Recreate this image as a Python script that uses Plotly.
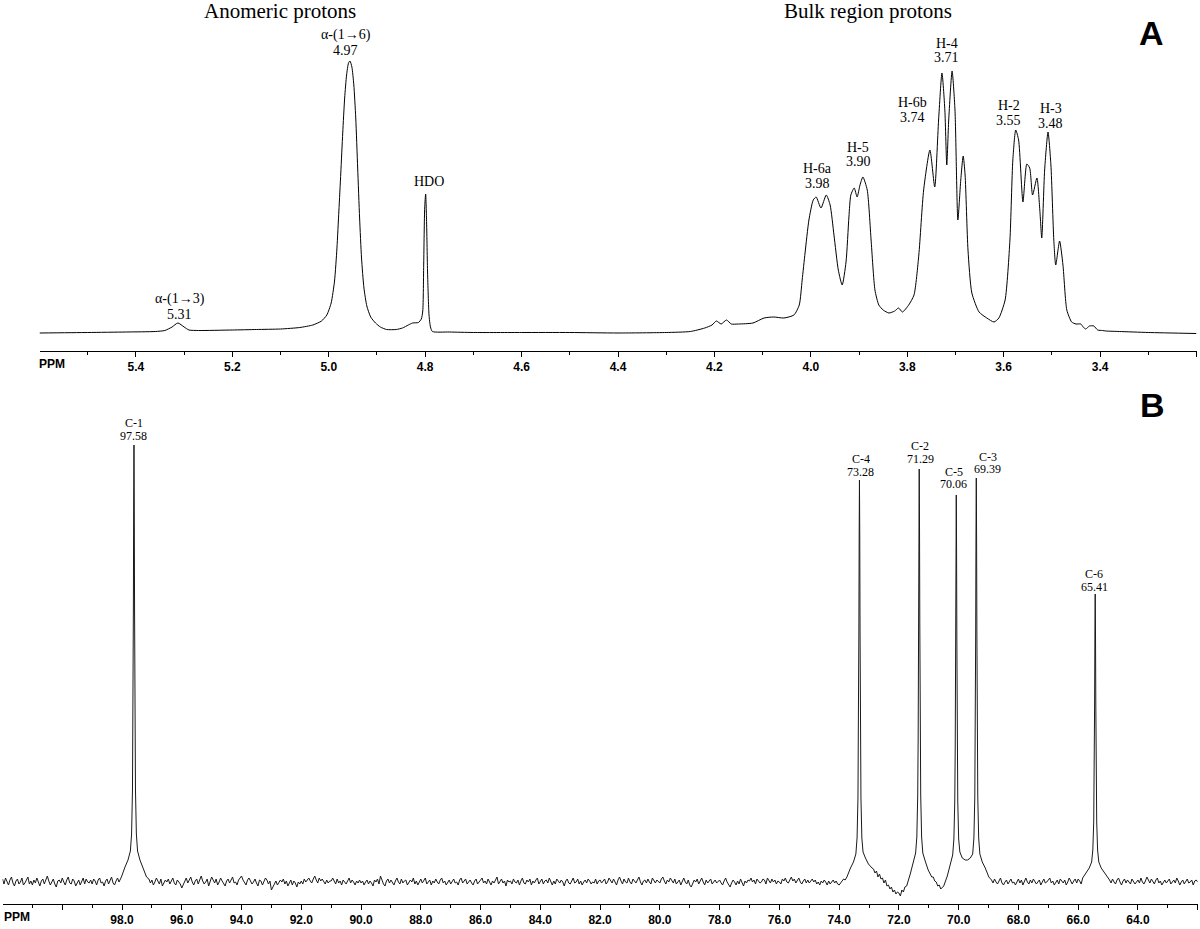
import plotly.graph_objects as go

# ---------------- Panel A : 1H NMR trace (ppm, relative intensity) ----------------
proton_trace = [
    (5.600, 0), (5.50, 0.5), (5.42, 1), (5.36, 1.5), (5.34, 2.5), (5.325, 6), (5.313, 10), (5.300, 6),
    (5.29, 3), (5.27, 2.5), (5.20, 3), (5.15, 3.5), (5.10, 4), (5.06, 5.5), (5.033, 8), (5.015, 12),
    (5.004, 18), (4.995, 30), (4.988, 52), (4.983, 85), (4.979, 122), (4.975, 160), (4.971, 200),
    (4.967, 235), (4.963, 258), (4.959, 270), (4.956, 272), (4.952, 266), (4.948, 248), (4.944, 215),
    (4.940, 165), (4.936, 115), (4.932, 75), (4.927, 45), (4.921, 27), (4.913, 16), (4.903, 10),
    (4.893, 6), (4.880, 3.5), (4.860, 3.5), (4.847, 5), (4.835, 8), (4.826, 10), (4.814, 10.5),
    (4.808, 14), (4.805, 22), (4.803, 70), (4.801, 125), (4.799, 139), (4.797, 110), (4.795, 60),
    (4.792, 18), (4.789, 6), (4.785, 1.5), (4.75, 1), (4.70, 0.5), (4.60, 0.5), (4.50, 0.5), (4.40, 0),
    (4.30, 0.5), (4.25, 1.5), (4.22, 5), (4.205, 8), (4.196, 12), (4.186, 9), (4.175, 13), (4.165, 9),
    (4.15, 9), (4.12, 10), (4.097, 15), (4.077, 16), (4.056, 15), (4.035, 18), (4.024, 28), (4.018, 53),
    (4.012, 80), (4.004, 113), (3.995, 133), (3.989, 136), (3.979, 125), (3.968, 138), (3.960, 128),
    (3.952, 98), (3.943, 63), (3.935, 48), (3.927, 71), (3.921, 116), (3.917, 138), (3.910, 145),
    (3.904, 136), (3.898, 148), (3.892, 156), (3.883, 143), (3.875, 93), (3.867, 43), (3.859, 28),
    (3.850, 23), (3.838, 20), (3.826, 22), (3.818, 25), (3.810, 21), (3.797, 28), (3.786, 38),
    (3.776, 78), (3.766, 143), (3.753, 183), (3.743, 146), (3.735, 213), (3.728, 260), (3.722, 223),
    (3.718, 168), (3.714, 213), (3.707, 262), (3.701, 223), (3.695, 113), (3.689, 153), (3.684, 177),
    (3.680, 158), (3.674, 83), (3.666, 40), (3.651, 21), (3.635, 15), (3.620, 11), (3.610, 15),
    (3.597, 33), (3.587, 93), (3.581, 173), (3.575, 203), (3.569, 193), (3.560, 131), (3.552, 169),
    (3.546, 165), (3.540, 138), (3.531, 155), (3.525, 123), (3.521, 95), (3.515, 163), (3.508, 201),
    (3.502, 168), (3.496, 93), (3.492, 68), (3.484, 92), (3.477, 68), (3.469, 23), (3.459, 11),
    (3.450, 9), (3.440, 9), (3.435, 6), (3.430, 4), (3.422, 7), (3.413, 7), (3.405, 3), (3.395, 2.5),
    (3.388, 2), (3.360, 1.5), (3.300, 0.5), (3.200, -0.5),
]
proton_ppm = [p for p, _ in proton_trace]
proton_int = [v for _, v in proton_trace]

proton_label_names = ["α-(1→3)", "α-(1→6)", "HDO", "H-6a", "H-5", "H-6b", "H-4", "H-2", "H-3"]
proton_label_values = ["5.31", "4.97", "", "3.98", "3.90", "3.74", "3.71", "3.55", "3.48"]
proton_label_ppm = [5.309, 4.965, 4.793, 3.987, 3.902, 3.790, 3.718, 3.589, 3.502]
proton_label_name_y = [34, 298, 152, 165, 186, 231, 290, 228, 225]
proton_label_value_y = [19, 283, 152, 150, 172, 216, 276, 213, 210]

proton_major_ticks = [5.4, 5.2, 5.0, 4.8, 4.6, 4.4, 4.2, 4.0, 3.8, 3.6, 3.4, 3.2]
proton_tick_text = ["5.4", "5.2", "5.0", "4.8", "4.6", "4.4", "4.2", "4.0", "3.8", "3.6", "3.4", ""]
proton_minor_ticks = [5.5, 5.3, 5.1, 4.9, 4.7, 4.5, 4.3, 4.1, 3.9, 3.7, 3.5, 3.3]

# ---------------- Panel B : 13C NMR trace ----------------
# baseline noise read every 0.05 ppm from 102.00 down to 62.00 (one row = 1 ppm)
carbon_noise_start = 102.0
carbon_noise_step = 0.05
carbon_noise = [
    3, -2, 4, 1, -3, 2, 5, -1, -4, 1, 3, -2, 0, 4, -3, -1, 2, 5, -2, 1,        # 102
    -3, 2, -1, 4, 0, -4, 1, 3, -2, 2, 6, 1, -3, 0, 3, -2, -5, 1, 2, -1,        # 101
    4, 0, -3, 2, 5, -1, -2, 3, 1, -4, 0, 2, -3, 1, 4, -2, 3, 0, -1, 2,         # 100
    -2, 3, 1, -3, 2, 4, -1, 0, -4, 1, 3, -2, 2, 5, -1, -3, 1, 4, 0, -2,        # 99
    0, 0, 0, 0, 0, 0, 0, 0, 0, 0, 0, 0, 0, 0, 0, 0, 0, 0, 3, -1,               # 98
    2, -3, 0, 4, 1, -2, 3, -4, -1, 2, 0, 3, -2, 1, 4, -1, -3, 2, 0, -2,        # 97
    -6, -3, 1, 4, -1, 2, 5, 0, -3, 1, 3, -2, 2, 6, 1, -2, 0, 3, -4, 1,         # 96
    5, 2, -1, 3, -3, 0, 4, 1, -2, -4, 1, 3, -1, 2, 5, -1, 0, -3, 2, 4,         # 95
    6, 2, -1, -3, 2, 4, 1, -2, 0, 3, -1, -4, 2, 1, -3, 0, 4, 2, -2, 1,         # 94
    -8, -5, -2, 1, -3, -1, 2, 0, 3, -2, 1, -4, 0, 2, -3, 1, -1, -5, 0, -2,     # 93
    1, -2, 3, 0, 2, 4, 1, -1, 3, 6, 2, -1, 4, 1, 3, 0, -2, 2, -1, 1,           # 92
    1, 4, 0, -2, 3, -1, 1, -3, 2, 0, -2, 1, 4, -1, 2, 0, -3, 1, -1, 2,         # 91
    -1, 1, -3, 0, 2, -2, 1, -1, -4, 2, 0, 3, -2, 6, 1, -2, -4, 1, 3, -1,       # 90
    2, -1, -3, 1, 4, 0, -2, 3, -1, 1, 2, -3, -1, 2, 0, 4, -2, 1, -3, 0,        # 89
    3, -1, 1, 4, -2, 0, 2, -3, 1, -1, 3, 0, -2, 2, 4, -1, 1, -3, 0, 2,         # 88
    -2, 1, 3, -1, 0, -3, 2, 4, -1, 1, 3, -2, 0, 2, -1, -3, 1, 3, -2, 0,        # 87
    2, 4, -1, 1, -2, 3, 0, -3, 1, -1, 2, 5, -2, 0, 3, -1, 1, -4, 2, 0,         # 86
    1, -2, 3, 0, -1, 2, -3, 1, 4, -1, -2, 2, 0, 3, -3, 1, -1, 2, 4, -2,        # 85
    0, 3, -2, 1, 2, -1, 4, 0, -3, 1, -2, 3, 1, -1, 2, 0, -4, 1, 3, -1,         # 84
    -2, 2, 4, -1, 0, 3, -2, 1, -3, 0, 2, -1, 3, 1, -2, 0, -1, 3, -2, 1,        # 83
    2, -1, 1, 3, -2, 0, 4, 1, -1, 3, 0, -3, 2, 5, 1, -2, 3, 0, -1, 4,          # 82
    0, -2, 3, 1, -1, 2, 5, 0, -3, 1, 2, -1, 3, 0, -2, 4, 1, -1, 2, 0,          # 81
    -1, 3, 5, 1, -2, 2, 0, 4, 1, -1, 3, -2, 0, 2, -3, 1, 4, 0, -2, 2,          # 80
    -3, -5, -1, 2, 0, 3, -2, 1, 4, 0, -3, 2, -1, 1, 3, -2, 0, 2, -1, 1,        # 79
    2, -1, -3, 1, 4, 0, -2, -5, -1, 2, 0, -3, 1, -2, 3, 0, -4, 1, -1, 2,       # 78
    1, 4, 0, 2, -2, 3, 1, -1, 0, 3, 2, -2, 4, 1, -1, 3, 0, 2, -2, 1,           # 77
    0, -2, 3, 1, 4, 0, -1, 2, 5, 1, 3, -1, 2, 4, 0, -2, 1, 3, -1, 2,           # 76
    -1, 1, 3, 0, 2, -2, 0, -3, 1, -1, 2, 0, -3, 1, -2, 0, 2, -1, 1, -2,        # 75
    -3, -1, 1, 3, 2, 0, 0, 0, 0, 0, 0, 0, 0, 0, 0, 0, 0, 0, 0, 0,              # 74
    0, 0, 0, 13, 9, 11, 5, 8, 3, 4, -1, 2, -4, -3, -7, -5, -10, -8, -12, -10,  # 73
    -11, -14, -8, -10, -5, 0, 0, 0, 0, 0, 0, 0, 0, 0, 0, 0, 0, 0, 0, 0,        # 72
    0, 0, 0, 5, 1, 0, -4, -3, -7, -5, 0, 0, 0, 0, 0, 0, 0, 0, 0, 0,            # 71
    0, 0, 0, 0, 0, 0, 0, 0, 0, 0, 0, 0, 0, 0, 0, 0, 0, 0, 0, 0,                # 70
    0, 4, 2, -1, 3, 0, -2, 1, 4, -1, -3, 0, 2, -2, 1, 3, -1, 0, -3, 1,         # 69
    3, -1, 2, -3, 1, 4, 0, -2, 2, -1, 3, 1, -2, 0, 2, -3, 1, 3, -1, 0,         # 68
    2, 4, -1, 1, -3, 0, 2, -2, 3, 1, -1, 2, -3, 0, 4, 1, -2, 1, 3, -1,         # 67
    3, 1, -2, 0, 0, 0, 0, 0, 0, 0, 0, 0, 0, 0, 0, 0, 0, 0, 0, 0,               # 66
    0, 2, -1, 3, 0, -2, 2, 4, 0, -3, 1, 3, -1, 2, 0, -2, 3, 1, -2, 0,          # 65
    2, -1, 4, 0, -2, 1, 5, 2, -1, 3, 0, -2, 2, 4, -1, 1, -3, 0, 2, -1,         # 64
    1, 3, -2, 0, 2, -1, 4, 1, -3, 0, 2, -2, 1, 3, -1, 0, 2, -3, 1, 2,          # 63
    0,                                                                         # 62
]
carbon_peak_centres = [97.60, 73.32, 71.32, 70.08, 69.41, 65.43]
carbon_peak_points = [
    # C-1
    (98.02, 5), (97.90, 15), (97.80, 22), (97.72, 31), (97.68, 48), (97.65, 92), (97.635, 153),
    (97.62, 271), (97.61, 376), (97.60, 437), (97.59, 376), (97.58, 271), (97.565, 153), (97.55, 92),
    (97.52, 48), (97.48, 31), (97.40, 22), (97.30, 15), (97.18, 5),
    # C-4
    (73.74, 5), (73.62, 14), (73.52, 20), (73.44, 28), (73.40, 44), (73.37, 84), (73.355, 141),
    (73.34, 249), (73.33, 346), (73.32, 402), (73.31, 346), (73.30, 249), (73.285, 141), (73.27, 84),
    (73.24, 44), (73.20, 30), (73.12, 24), (73.02, 18), (72.90, 14),
    # C-2
    (71.74, -4), (71.62, 8), (71.52, 21), (71.44, 29), (71.40, 45), (71.37, 87), (71.355, 145),
    (71.34, 256), (71.33, 355), (71.32, 413), (71.31, 355), (71.30, 256), (71.285, 145), (71.27, 87),
    (71.24, 45), (71.20, 29), (71.12, 21), (71.02, 12), (70.90, 5),
    # C-5
    (70.50, -4), (70.38, 6), (70.28, 19), (70.20, 27), (70.16, 43), (70.13, 81), (70.115, 135),
    (70.10, 240), (70.09, 333), (70.08, 387), (70.07, 333), (70.06, 240), (70.045, 135), (70.03, 81),
    (70.00, 43), (69.96, 30), (69.88, 24), (69.78, 22),
    # C-3
    (69.70, 22), (69.61, 24), (69.53, 28), (69.49, 44), (69.46, 85), (69.445, 141), (69.43, 250),
    (69.42, 347), (69.41, 404), (69.40, 347), (69.39, 250), (69.375, 141), (69.36, 85), (69.33, 44),
    (69.29, 28), (69.21, 20), (69.11, 14), (68.99, 5),
    # C-6
    (65.85, 4), (65.73, 10), (65.63, 14), (65.55, 20), (65.51, 32), (65.48, 60), (65.465, 101),
    (65.45, 179), (65.44, 248), (65.43, 288), (65.42, 248), (65.41, 179), (65.395, 101), (65.38, 60),
    (65.35, 32), (65.31, 20), (65.23, 14), (65.13, 10), (65.01, 4),
]

carbon_label_names = ["C-1", "C-4", "C-2", "C-5", "C-3", "C-6"]
carbon_label_values = ["97.58", "73.28", "71.29", "70.06", "69.39", "65.41"]
carbon_label_ppm = [97.60, 73.27, 71.29, 70.16, 69.02, 65.47]
carbon_label_name_y = [459, 423, 436, 410, 425, 308]
carbon_label_value_y = [446, 410, 423, 398, 413, 295]

carbon_major_ticks = [100, 98, 96, 94, 92, 90, 88, 86, 84, 82, 80, 78, 76, 74, 72, 70, 68, 66, 64, 62]
carbon_tick_text = [""] + ["%.1f" % t for t in carbon_major_ticks[1:-1]] + [""]
carbon_minor_ticks = [101, 99, 97, 95, 93, 91, 89, 87, 85, 83, 81, 79, 77, 75, 73, 71, 69, 67, 65, 63]

# ---- assemble 13C table (noise grid outside the peak windows + peak points) ----
grid = [(round(carbon_noise_start - carbon_noise_step * i, 2), v) for i, v in enumerate(carbon_noise)]
grid = [(p, v) for p, v in grid if min(abs(p - c) for c in carbon_peak_centres) >= 0.46]
carbon_all = sorted(grid + carbon_peak_points, key=lambda t: -t[0])
carbon_ppm = [p for p, _ in carbon_all]
carbon_int = [v for _, v in carbon_all]

W, H = 1200, 929

fig = go.Figure()
fig.add_trace(go.Scatter(x=proton_ppm, y=proton_int, mode="lines", xaxis="x", yaxis="y",
                         line=dict(color="black", width=1, shape="spline", smoothing=0.6),
                         showlegend=False, hoverinfo="skip"))
fig.add_trace(go.Scatter(x=carbon_ppm, y=carbon_int, mode="lines", xaxis="x2", yaxis="y2",
                         line=dict(color="#1a1a1a", width=1),
                         showlegend=False, hoverinfo="skip"))

tickfont = dict(family="Liberation Sans", size=12, color="black", weight="bold")
common_x = dict(showline=True, linecolor="black", linewidth=1, ticks="outside", ticklen=5,
                tickwidth=1, tickcolor="black", tickmode="array", showgrid=False,
                zeroline=False, tickfont=tickfont, fixedrange=True)

fig.update_layout(
    width=W, height=H, margin=dict(l=0, r=0, t=0, b=0),
    paper_bgcolor="white", plot_bgcolor="white",
    xaxis=dict(domain=[39.5 / W, 1196.5 / W], range=[5.6, 3.2], anchor="y",
               tickvals=proton_major_ticks, ticktext=proton_tick_text,
               minor=dict(tickmode="array", tickvals=proton_minor_ticks, ticks="outside",
                          ticklen=3, tickcolor="black", tickwidth=1),
               **common_x),
    yaxis=dict(domain=[1 - 351 / H, 1], range=[-18, 333], visible=False, fixedrange=True),
    xaxis2=dict(domain=[2.5 / W, 1197.7 / W], range=[102, 62], anchor="y2",
                tickvals=carbon_major_ticks, ticktext=carbon_tick_text,
                minor=dict(tickmode="array", tickvals=carbon_minor_ticks, ticks="outside",
                           ticklen=3, tickcolor="black", tickwidth=1),
                **common_x),
    yaxis2=dict(domain=[1 - 904 / H, 1 - 380 / H], range=[-22, 502], visible=False, fixedrange=True),
)

ann = []
serif = "Liberation Serif"
for name, val, x, yn, yv in zip(proton_label_names, proton_label_values, proton_label_ppm,
                                proton_label_name_y, proton_label_value_y):
    ann.append(dict(x=x, y=yn, xref="x", yref="y", text=name, showarrow=False,
                    font=dict(family=serif, size=14, color="black"), xanchor="center", yanchor="middle"))
    if val:
        ann.append(dict(x=x, y=yv, xref="x", yref="y", text=val, showarrow=False,
                        font=dict(family=serif, size=14, color="black"), xanchor="center", yanchor="middle"))
for name, val, x, yn, yv in zip(carbon_label_names, carbon_label_values, carbon_label_ppm,
                                carbon_label_name_y, carbon_label_value_y):
    ann.append(dict(x=x, y=yn, xref="x2", yref="y2", text=name, showarrow=False,
                    font=dict(family=serif, size=12, color="black"), xanchor="center", yanchor="middle"))
    ann.append(dict(x=x, y=yv, xref="x2", yref="y2", text=val, showarrow=False,
                    font=dict(family=serif, size=12, color="black"), xanchor="center", yanchor="middle"))

# region titles, panel letters and axis unit labels
ann.append(dict(x=280 / W, y=1 - 11 / H, xref="paper", yref="paper", text="Anomeric protons",
                showarrow=False, font=dict(family=serif, size=21, color="black"),
                xanchor="center", yanchor="middle"))
ann.append(dict(x=868 / W, y=1 - 11 / H, xref="paper", yref="paper", text="Bulk region protons",
                showarrow=False, font=dict(family=serif, size=21, color="black"),
                xanchor="center", yanchor="middle"))
ann.append(dict(x=1151 / W, y=1 - 33 / H, xref="paper", yref="paper", text="<b>A</b>",
                showarrow=False, font=dict(family="Liberation Sans", size=34, color="black"),
                xanchor="center", yanchor="middle"))
ann.append(dict(x=1152 / W, y=1 - 405 / H, xref="paper", yref="paper", text="<b>B</b>",
                showarrow=False, font=dict(family="Liberation Sans", size=34, color="black"),
                xanchor="center", yanchor="middle"))
ann.append(dict(x=52 / W, y=1 - 364 / H, xref="paper", yref="paper", text="<b>PPM</b>",
                showarrow=False, font=dict(family="Liberation Sans", size=12, color="black"),
                xanchor="center", yanchor="middle"))
ann.append(dict(x=17 / W, y=1 - 917 / H, xref="paper", yref="paper", text="<b>PPM</b>",
                showarrow=False, font=dict(family="Liberation Sans", size=12, color="black"),
                xanchor="center", yanchor="middle"))
fig.update_layout(annotations=ann)

fig.write_html("out.html", config={"displayModeBar": False},
               post_script="document.body.style.margin='0px';document.body.style.overflow='hidden';")
